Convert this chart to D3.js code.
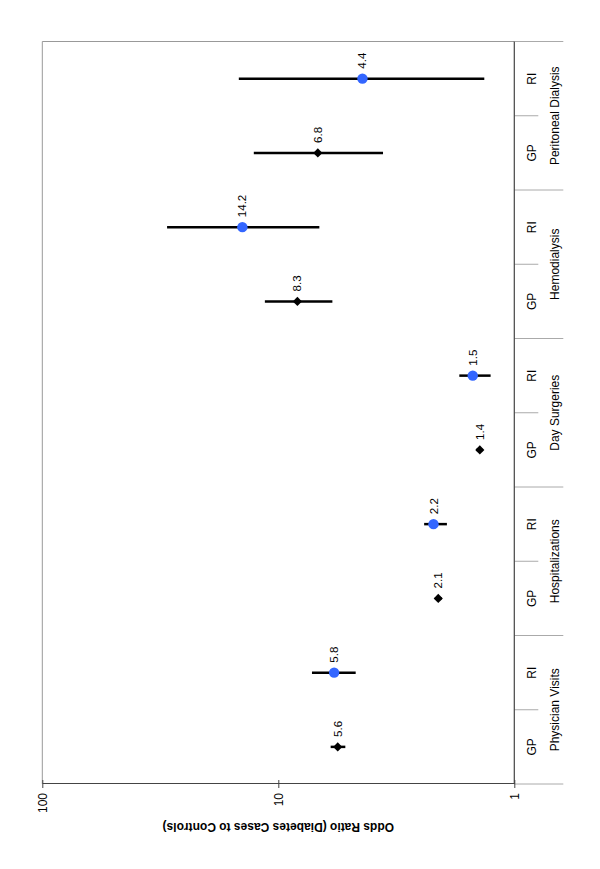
<!DOCTYPE html>
<html>
<head>
<meta charset="utf-8">
<script src="https://cdn.jsdelivr.net/npm/d3@7"></script>
<style>
  body { margin: 0; background: #fff; }
  svg { display: block; font-family: Arial, 'Liberation Sans', sans-serif; }
</style>
</head>
<body>
<div id="chart"></div>
<script>
const groups = ['Physician Visits', 'Hospitalizations', 'Day Surgeries', 'Hemodialysis', 'Peritoneal Dialysis']
const sources = ['GP', 'RI']
const oddsRatio = [5.6, 5.8, 2.1, 2.2, 1.4, 1.5, 8.3, 14.2, 6.8, 4.4]
const ciLower = [5.2, 4.7, 2.03, 1.93, 1.36, 1.26, 5.9, 6.7, 3.6, 1.34]
const ciUpper = [6.0, 7.2, 2.17, 2.41, 1.45, 1.71, 11.4, 29.6, 12.7, 14.7]
const yTicks = [1, 10, 100]
const yTitle = 'Odds Ratio (Diabetes Cases to Controls)'

// the chart is laid out upright (categories along the bottom) and then turned on its side
let width = 869
let height = 600
let margin = {top: 42.3, right: 41.5, bottom: 85.7, left: 85}

let blue = '#3366ff'
let axisColor = '#444'
let gridColor = '#aaa'

let data = groups.flatMap(function (g, gi) {
  return sources.map(function (s, si) {
    let i = gi * 2 + si
    return {group: g, source: s, key: g + '|' + s, or: oddsRatio[i], lo: ciLower[i], hi: ciUpper[i]}
  })
})

let x = d3.scaleBand()
    .domain(data.map(function (d) { return d.key }))
    .range([margin.left, width - margin.right])
let y = d3.scaleLog()
    .domain([1, 100])
    .range([height - margin.bottom, margin.top])

let svg = d3.select('#chart').append('svg')
    .attr('width', height)
    .attr('height', width)

let g = svg.append('g')
    .attr('transform', 'translate(0,' + width + ') rotate(-90)')

let x0 = x.range()[0]
let x1 = x.range()[1]
let bw = x.bandwidth()

// plot area border (top and right in upright frame)
g.append('path')
    .attr('d', 'M' + x0 + ',' + y(100) + 'H' + x1 + 'V' + y(1))
    .attr('fill', 'none')
    .attr('stroke', '#999')
    .attr('stroke-width', 1)

// category separators, long ones between groups
d3.range(data.length + 1).forEach(function (i) {
  let u = x0 + i * bw
  g.append('line')
      .attr('x1', u).attr('x2', u)
      .attr('y1', y(1)).attr('y2', y(1) + (i % 2 === 0 ? 49 : 24))
      .attr('stroke', gridColor)
      .attr('stroke-width', 1)
})

// category axis line
g.append('line')
    .attr('x1', x0).attr('x2', x1)
    .attr('y1', y(1)).attr('y2', y(1))
    .attr('stroke', axisColor)
    .attr('stroke-width', 1.2)

// value axis
let yAxis = g.append('g')
    .attr('transform', 'translate(' + x0 + ',0)')
    .call(d3.axisLeft(y).tickValues(yTicks).tickFormat(d3.format('d')).tickSize(4).tickSizeOuter(0).tickPadding(5))
yAxis.select('.domain').attr('stroke', axisColor).attr('stroke-width', 1.2)
yAxis.selectAll('.tick line').attr('x1', 4).attr('stroke', axisColor)
yAxis.selectAll('.tick text').attr('fill', '#000').style('font-size', '12px').style('font-family', 'Arial, Liberation Sans, sans-serif')

g.append('text')
    .attr('transform', 'translate(46,' + ((y(1) + y(100)) / 2) + ') rotate(-90)')
    .attr('text-anchor', 'middle')
    .style('font-size', '12px')
    .style('font-weight', 'bold')
    .text(yTitle)

// category labels
g.selectAll('.src').data(data).enter().append('text')
    .attr('class', 'src')
    .attr('x', function (d) { return x(d.key) + bw / 2 })
    .attr('y', y(1) + 22)
    .attr('text-anchor', 'middle')
    .style('font-size', '12px')
    .text(function (d) { return d.source })

g.selectAll('.grp').data(groups).enter().append('text')
    .attr('class', 'grp')
    .attr('x', function (d) { return x(d + '|' + sources[0]) + bw })
    .attr('y', y(1) + 45)
    .attr('text-anchor', 'middle')
    .style('font-size', '12px')
    .text(function (d) { return d })

// confidence intervals
g.selectAll('.ci').data(data).enter().append('line')
    .attr('class', 'ci')
    .attr('x1', function (d) { return x(d.key) + bw / 2 })
    .attr('x2', function (d) { return x(d.key) + bw / 2 })
    .attr('y1', function (d) { return y(d.lo) })
    .attr('y2', function (d) { return y(d.hi) })
    .attr('stroke', '#000')
    .attr('stroke-width', 2.5)

// markers: GP diamonds, RI circles
g.selectAll('.gp').data(data.filter(function (d) { return d.source === 'GP' })).enter().append('path')
    .attr('class', 'gp')
    .attr('d', d3.symbol(d3.symbolSquare, 42))
    .attr('transform', function (d) { return 'translate(' + (x(d.key) + bw / 2) + ',' + y(d.or) + ') rotate(45)' })
    .attr('fill', '#000')

g.selectAll('.ri').data(data.filter(function (d) { return d.source === 'RI' })).enter().append('circle')
    .attr('class', 'ri')
    .attr('cx', function (d) { return x(d.key) + bw / 2 })
    .attr('cy', function (d) { return y(d.or) })
    .attr('r', 5.2)
    .attr('fill', blue)

// value labels
g.selectAll('.lbl').data(data).enter().append('text')
    .attr('class', 'lbl')
    .attr('x', function (d) { return x(d.key) + bw / 2 + 10 })
    .attr('y', function (d) { return y(d.or) })
    .attr('dy', '0.35em')
    .style('font-size', '11.5px')
    .text(function (d) { return d.or.toFixed(1) })
</script>
</body>
</html>
